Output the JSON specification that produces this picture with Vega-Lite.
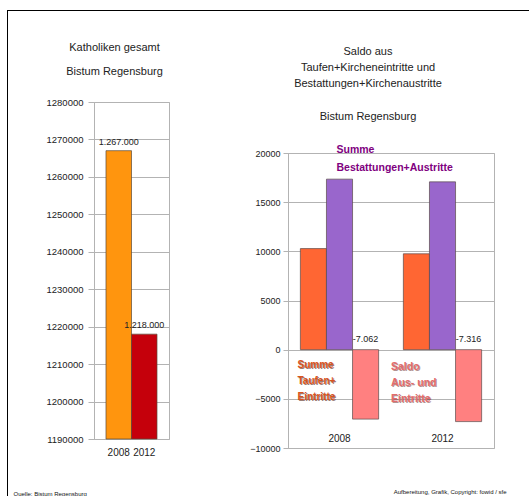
{
  "$schema": "https://vega.github.io/schema/vega-lite/v6.json",
  "padding": {"left": 7, "top": 10, "right": 0, "bottom": 0},
  "background": "white",
  "spacing": 0,
  "config": {
    "font": "Liberation Sans",
    "view": {"stroke": "#b3b3b3"},
    "axis": {"gridColor": "#b3b3b3", "domainColor": "#b3b3b3", "tickColor": "#b3b3b3", "labelColor": "#222222", "labelFont": "Liberation Sans", "titleFont": "Liberation Sans", "titleColor": "#111111", "labelOverlap": false},
    "title": {"font": "Liberation Sans", "fontWeight": "normal", "color": "#222222", "subtitleFont": "Liberation Sans", "subtitleColor": "#222222"}
  },
  "datasets": {
    "katholiken": [
      {"jahr": "2008", "wert": 1267000, "label": "1.267.000"},
      {"jahr": "2012", "wert": 1218000, "label": "1.218.000"}
    ],
    "saldo": [
      {"jahr": "2008", "reihe": "Taufen", "wert": 10280},
      {"jahr": "2008", "reihe": "Bestattungen", "wert": 17342},
      {"jahr": "2008", "reihe": "Saldo", "wert": -7062},
      {"jahr": "2012", "reihe": "Taufen", "wert": 9750},
      {"jahr": "2012", "reihe": "Bestattungen", "wert": 17066},
      {"jahr": "2012", "reihe": "Saldo", "wert": -7316}
    ],
    "saldoLabels": [
      {"jahr": "2008", "reihe": "Saldo", "label": "-7.062"},
      {"jahr": "2012", "reihe": "Saldo", "label": "-7.316"}
    ],
    "annotations": [
      {"gruppe": "best", "jahr": "2008", "wert": 20780, "text": "Summe\nBestattungen+Austritte"},
      {"gruppe": "taufen", "jahr": "2008", "wert": -1010, "text": "Summe\nTaufen+\nEintritte"},
      {"gruppe": "saldo", "jahr": "2012", "wert": -1270, "text": "Saldo\nAus- und\nEintritte"}
    ]
  },
  "vconcat": [
    {
      "width": 525, "height": 1,
      "view": {"fill": "black", "stroke": null},
      "data": {"values": []},
      "mark": {"type": "point", "opacity": 0},
      "encoding": {}
    },
    {
      "spacing": 4,
      "hconcat": [
        {
          "width": 1, "height": 490,
          "view": {"fill": "black", "stroke": null},
          "data": {"values": []},
          "mark": {"type": "point", "opacity": 0},
          "encoding": {}
        },
        {
          "spacing": 0,
          "vconcat": [
            {
              "width": 1, "height": 29,
              "view": {"stroke": null},
              "data": {"values": []},
              "mark": {"type": "point", "opacity": 0},
              "encoding": {}
            },
            {
              "spacing": 79,
              "align": "none",
              "resolve": {"scale": {"color": "independent", "x": "independent", "y": "independent", "xOffset": "independent"}},
              "hconcat": [
                {
                  "spacing": 0,
                  "vconcat": [
                    {
                      "width": 1, "height": 1,
                      "view": {"stroke": null},
                      "data": {"values": []},
                      "mark": {"type": "point", "opacity": 0},
                      "encoding": {}
                    },
                    {
                      "width": 75, "height": 337,
                      "data": {"name": "katholiken"},
                      "title": {"text": "Katholiken gesamt", "subtitle": "Bistum Regensburg", "fontSize": 11, "subtitleFontSize": 11, "subtitlePadding": 12.5, "offset": 20.5, "anchor": "middle", "frame": "group", "dx": -17},
                      "layer": [
                        {
                          "mark": {"type": "bar", "stroke": "#5a4a3a", "strokeWidth": 0.7},
                          "encoding": {
                            "x": {"field": "jahr", "type": "nominal", "scale": {"paddingInner": 0, "paddingOuter": 0.47},
                              "axis": {"title": "Quelle: Bistum Regensburg", "titleX": -81, "titleY": 54, "titleAlign": "left", "titleBaseline": "middle", "titleFontSize": 6, "titleFontWeight": "normal", "labelAngle": 0, "labelFontSize": 10, "labelPadding": 8, "ticks": false, "domain": false, "grid": false}},
                            "y": {"field": "wert", "type": "quantitative", "scale": {"domain": [1190000, 1280000], "zero": false, "nice": false},
                              "axis": {"values": [1190000, 1200000, 1210000, 1220000, 1230000, 1240000, 1250000, 1260000, 1270000, 1280000], "tickCount": 20, "format": "d", "labelFontSize": 9.5, "tickSize": 6, "labelPadding": 5, "title": null, "grid": true}},
                            "y2": {"datum": 1190000},
                            "color": {"field": "jahr", "type": "nominal", "scale": {"domain": ["2008", "2012"], "range": ["#FF950E", "#C5000B"]}, "legend": null}
                          }
                        },
                        {
                          "mark": {"type": "text", "baseline": "bottom", "dy": -4, "fontSize": 9, "color": "#222222"},
                          "encoding": {
                            "x": {"field": "jahr", "type": "nominal"},
                            "y": {"field": "wert", "type": "quantitative"},
                            "text": {"field": "label"}
                          }
                        }
                      ]
                    }
                  ]
                },
                {
                  "spacing": 0,
                  "vconcat": [
                    {
                      "width": 1, "height": 5,
                      "view": {"stroke": null},
                      "data": {"values": []},
                      "mark": {"type": "point", "opacity": 0},
                      "encoding": {}
                    },
                    {
                      "width": 206, "height": 295,
                      "title": {"text": ["Saldo aus", "Taufen+Kircheneintritte und", "Bestattungen+Kirchenaustritte"], "subtitle": "Bistum Regensburg", "fontSize": 11, "lineHeight": 16, "subtitleFontSize": 11, "subtitlePadding": 21.5, "offset": 23.5, "anchor": "middle", "frame": "group", "dx": -23},
                      "layer": [
                        {
                          "data": {"name": "saldo"},
                          "mark": {"type": "bar", "stroke": "#5a4a4a", "strokeWidth": 0.7},
                          "encoding": {
                            "x": {"field": "jahr", "type": "nominal", "scale": {"paddingInner": 0.24, "paddingOuter": 0.12},
                              "axis": {"title": "Aufbereitung, Grafik, Copyright: fowid / sfe", "titleX": 218, "titleY": 43, "titleAlign": "right", "titleBaseline": "middle", "titleFontSize": 6, "titleFontWeight": "normal", "labelAngle": 0, "labelFontSize": 10, "labelPadding": -15, "labelBaseline": "top", "ticks": false, "domain": false, "grid": false}},
                            "xOffset": {"field": "reihe", "type": "nominal", "scale": {"domain": ["Taufen", "Bestattungen", "Saldo"], "paddingInner": 0, "paddingOuter": 0}},
                            "y": {"field": "wert", "type": "quantitative", "scale": {"domain": [-10000, 20000], "nice": false},
                              "axis": {"values": [-10000, -5000, 0, 5000, 10000, 15000, 20000], "tickCount": 20, "format": "d", "labelFontSize": 9, "tickSize": 5, "labelPadding": 3, "title": null, "grid": true}},
                            "color": {"field": "reihe", "type": "nominal", "scale": {"domain": ["Taufen", "Bestattungen", "Saldo"], "range": ["#FF6633", "#9966CC", "#FF8080"]}, "legend": null}
                          }
                        },
                        {
                          "data": {"name": "saldoLabels"},
                          "mark": {"type": "text", "baseline": "middle", "dy": -11, "fontSize": 9, "color": "#222222"},
                          "encoding": {
                            "x": {"field": "jahr", "type": "nominal"},
                            "xOffset": {"field": "reihe", "type": "nominal"},
                            "y": {"datum": 0},
                            "text": {"field": "label"}
                          }
                        },
                        {
                          "data": {"name": "annotations"},
                          "transform": [{"filter": "datum.gruppe == 'best'"}],
                          "mark": {"type": "text", "align": "left", "baseline": "top", "lineBreak": "\n", "lineHeight": 17.5, "fontSize": 10.5, "fontWeight": "bold", "color": "#800080", "dx": -3},
                          "encoding": {
                            "x": {"field": "jahr", "type": "nominal"},
                            "y": {"field": "wert", "type": "quantitative"},
                            "text": {"field": "text"}
                          }
                        },
                        {
                          "data": {"name": "annotations"},
                          "transform": [{"filter": "datum.gruppe == 'taufen'"}],
                          "mark": {"type": "text", "align": "left", "baseline": "top", "lineBreak": "\n", "lineHeight": 16, "fontSize": 10, "fontWeight": "bold", "color": "#5a2a1a", "opacity": 0.6, "dx": -41, "dy": 1},
                          "encoding": {
                            "x": {"field": "jahr", "type": "nominal"},
                            "y": {"field": "wert", "type": "quantitative"},
                            "text": {"field": "text"}
                          }
                        },
                        {
                          "data": {"name": "annotations"},
                          "transform": [{"filter": "datum.gruppe == 'taufen'"}],
                          "mark": {"type": "text", "align": "left", "baseline": "top", "lineBreak": "\n", "lineHeight": 16, "fontSize": 10, "fontWeight": "bold", "color": "#D9541E", "dx": -42},
                          "encoding": {
                            "x": {"field": "jahr", "type": "nominal"},
                            "y": {"field": "wert", "type": "quantitative"},
                            "text": {"field": "text"}
                          }
                        },
                        {
                          "data": {"name": "annotations"},
                          "transform": [{"filter": "datum.gruppe == 'saldo'"}],
                          "mark": {"type": "text", "align": "left", "baseline": "top", "lineBreak": "\n", "lineHeight": 16, "fontSize": 10.5, "fontWeight": "bold", "color": "#6a2a2a", "opacity": 0.5, "dx": -50.5, "dy": 1},
                          "encoding": {
                            "x": {"field": "jahr", "type": "nominal"},
                            "y": {"field": "wert", "type": "quantitative"},
                            "text": {"field": "text"}
                          }
                        },
                        {
                          "data": {"name": "annotations"},
                          "transform": [{"filter": "datum.gruppe == 'saldo'"}],
                          "mark": {"type": "text", "align": "left", "baseline": "top", "lineBreak": "\n", "lineHeight": 16, "fontSize": 10.5, "fontWeight": "bold", "color": "#E36C6C", "dx": -51.5},
                          "encoding": {
                            "x": {"field": "jahr", "type": "nominal"},
                            "y": {"field": "wert", "type": "quantitative"},
                            "text": {"field": "text"}
                          }
                        }
                      ]
                    }
                  ]
                }
              ]
            }
          ]
        }
      ]
    }
  ]
}
